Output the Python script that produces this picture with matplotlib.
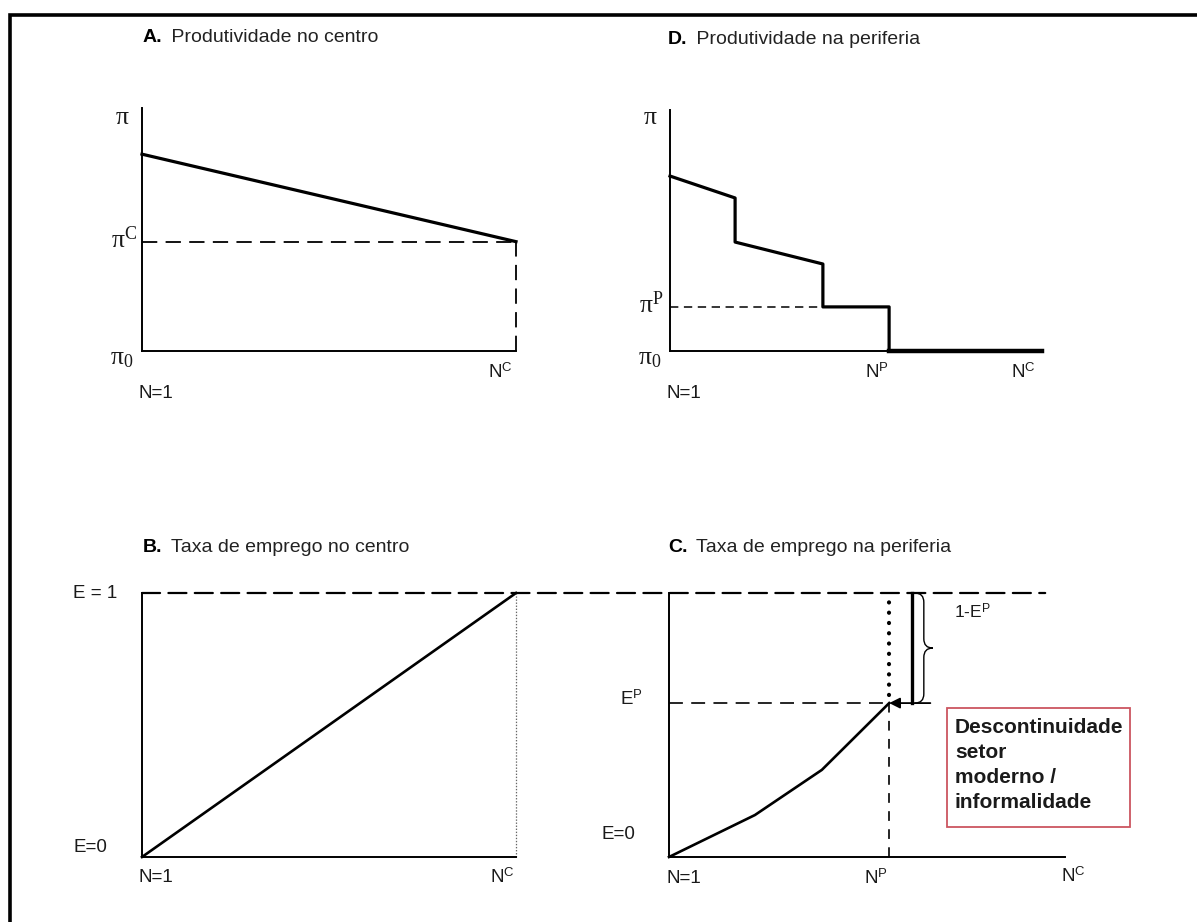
import numpy as np
import matplotlib
matplotlib.use('Agg')
import matplotlib.pyplot as plt
from matplotlib.patches import Rectangle, ConnectionPatch, PathPatch
from matplotlib.path import Path
from matplotlib.lines import Line2D

plt.rcParams['font.family'] = ['Liberation Sans', 'DejaVu Sans']
plt.rcParams['mathtext.fontset'] = 'custom'
plt.rcParams['mathtext.rm'] = 'Liberation Serif'
plt.rcParams['mathtext.it'] = 'Liberation Serif'
plt.rcParams['mathtext.sf'] = 'Liberation Sans'
plt.rcParams['lines.scale_dashes'] = False

# --- data (x: 0 = N=1, y: 0 = pi0 / E=0) ---
prod_centro_x = [0.0, 1.0]
prod_centro_y = [0.81, 0.45]
pi_C = 0.45

prod_perif_x = [0.0, 0.175, 0.175, 0.411, 0.411, 0.589, 0.589]
prod_perif_y = [0.726, 0.635, 0.452, 0.361, 0.183, 0.183, 0.0]
informal_x = [0.589, 1.0]
informal_y = [0.0, 0.0]
pi_P = 0.183
N_P_d = 0.589
N_C_d = 0.95

emp_centro_x = [0.0, 1.0]
emp_centro_y = [0.0, 1.0]

emp_perif_x = [0.0, 0.217, 0.386, 0.556]
emp_perif_y = [0.0, 0.159, 0.33, 0.583]
E_P = 0.583
N_P_c = 0.556
N_C_c = 1.02

titles = ['A.', 'D.', 'B.', 'C.']
subtitles = [' Produtividade no centro', ' Produtividade na periferia',
             ' Taxa de emprego no centro', ' Taxa de emprego na periferia']
box_lines = ['Descontinuidade', 'setor', 'moderno /', 'informalidade']

W, H = 1197, 922
fig = plt.figure(figsize=(W / 100, H / 100), dpi=100)


def px_axes(x0, x1, ybot, ytop):
    ax = fig.add_axes([x0 / W, 1 - ybot / H, (x1 - x0) / W, (ybot - ytop) / H])
    ax.set_xlim(0, 1)
    ax.set_ylim(0, 1)
    ax.patch.set_alpha(0)
    for s in ['top', 'right']:
        ax.spines[s].set_visible(False)
    for s in ['left', 'bottom']:
        ax.spines[s].set_linewidth(1.4)
    ax.set_xticks([])
    ax.set_yticks([])
    return ax


def lab(ax, txt, xy, off, size=13, ha='center', **kw):
    ax.annotate(txt, xy=xy, xytext=off, textcoords='offset pixels',
                ha=ha, va='center', fontsize=size, annotation_clip=False,
                color='#1a1a1a', **kw)


ax_a = px_axes(142, 516, 351, 108)
ax_d = px_axes(670, 1042, 351, 110)
ax_b = px_axes(142, 516, 857, 593)
ax_c = px_axes(669, 1065, 857, 593)

# titles
for t, st, (xp, yp) in zip(titles, subtitles,
                           [(143, 38), (668, 40), (143, 548), (668, 548)]):
    fig.text(xp / W, 1 - yp / H, t, fontsize=14, fontweight='bold', va='center')
    fig.text(xp / W + 0.019, 1 - yp / H, st, fontsize=14, va='center', color='#222222')

# A. produtividade no centro
ax_a.plot(prod_centro_x, prod_centro_y, color='black', lw=2.3, clip_on=False)
ax_a.plot([0, 1], [pi_C, pi_C], color='black', lw=1.3, ls=(0, (11, 6)), clip_on=False)
ax_a.plot([1, 1], [0, pi_C], color='black', lw=1.3, ls=(0, (11, 6)), clip_on=False)
lab(ax_a, r'$\pi$', (0, 1), (-20, -9), size=18.5)
lab(ax_a, r'$\pi^{C}$', (0, pi_C), (-18, 2), size=18.5)
lab(ax_a, r'$\pi_0$', (0, 0), (-20, -7), size=18.5)
lab(ax_a, r'N$^{\mathsf{C}}$', (1, 0), (-16, -21), size=13.5)
lab(ax_a, 'N=1', (0, 0), (14, -42), size=13.5)

# D. produtividade na periferia
ax_d.plot(prod_perif_x, prod_perif_y, color='black', lw=2.3, clip_on=False)
ax_d.plot(informal_x, informal_y, color='black', lw=3.2, clip_on=False)
ax_d.plot([0, prod_perif_x[3]], [pi_P, pi_P], color='black', lw=1.1, ls=(0, (6, 4)), clip_on=False)
lab(ax_d, r'$\pi$', (0, 1), (-20, -7), size=18.5)
lab(ax_d, r'$\pi^{P}$', (0, pi_P), (-18, 2), size=18.5)
lab(ax_d, r'$\pi_0$', (0, 0), (-20, -7), size=18.5)
lab(ax_d, r'N$^{\mathsf{P}}$', (N_P_d, 0), (-12, -21), size=13.5)
lab(ax_d, r'N$^{\mathsf{C}}$', (N_C_d, 0), (0, -21), size=13.5)
lab(ax_d, 'N=1', (0, 0), (14, -42), size=13.5)

# B. taxa de emprego no centro
ax_b.plot(emp_centro_x, emp_centro_y, color='black', lw=1.9, clip_on=False)
ax_b.plot([1, 1], [0, 1], color='#666666', lw=0.9, ls=(0, (1, 1.2)), clip_on=False)
lab(ax_b, 'E = 1', (0, 1), (-47, 0), size=13.5)
lab(ax_b, 'E=0', (0, 0), (-52, 10), size=13.5)
lab(ax_b, 'N=1', (0, 0), (14, -20), size=13.5)
lab(ax_b, r'N$^{\mathsf{C}}$', (1, 0), (-14, -20), size=13.5)

# dashed line E = 1 across B and C
con = ConnectionPatch(xyA=(0, 1), xyB=(0.95, 1), coordsA=ax_b.transData,
                      coordsB=ax_c.transData, color='black', lw=1.6,
                      linestyle=(0, (13, 6)))
fig.add_artist(con)

# C. taxa de emprego na periferia
ax_c.plot(emp_perif_x, emp_perif_y, color='black', lw=1.9, clip_on=False)
ax_c.plot([0, N_P_c], [E_P, E_P], color='black', lw=1.2, ls=(0, (10, 6)), clip_on=False)
ax_c.plot([N_P_c, N_P_c], [0, E_P], color='black', lw=1.2, ls=(0, (7, 6)), clip_on=False)
ax_c.plot([N_P_c, N_P_c], [E_P + 0.03, 1], color='black', lw=3.0,
          ls=(0, (0.1, 7.3)), dash_capstyle='round', clip_on=False)
# bar showing 1-E^P
ax_c.plot([0.614, 0.614], [E_P, 1], color='black', lw=2.4, clip_on=False)
ax_c.annotate('', xy=(N_P_c, E_P), xytext=(0.66, E_P),
              arrowprops=dict(arrowstyle='-|>', color='black', lw=1.3,
                              mutation_scale=16, shrinkA=0, shrinkB=0))
# brace
bx0, bw, btop, bbot = 0.621, 0.045, 1.0, E_P
bmid = (btop + bbot) / 2
r = 0.035
verts = [(bx0, btop), (bx0 + bw / 2, btop), (bx0 + bw / 2, btop - r),
         (bx0 + bw / 2, bmid + r),
         (bx0 + bw / 2, bmid), (bx0 + bw, bmid),
         (bx0 + bw / 2, bmid), (bx0 + bw / 2, bmid - r),
         (bx0 + bw / 2, bbot + r),
         (bx0 + bw / 2, bbot), (bx0, bbot)]
codes = [Path.MOVETO, Path.CURVE3, Path.CURVE3, Path.LINETO,
         Path.CURVE3, Path.CURVE3, Path.CURVE3, Path.CURVE3,
         Path.LINETO, Path.CURVE3, Path.CURVE3]
ax_c.add_patch(PathPatch(Path(verts, codes), fill=False, lw=1.0, color='black', clip_on=False))

lab(ax_c, r'1-E$^{\mathsf{P}}$', (0.72, 1), (0, -19), ha='left', size=12.5)
lab(ax_c, r'E$^{\mathsf{P}}$', (0, E_P), (-38, 4), size=13.5)
lab(ax_c, 'E=0', (0, 0), (-51, 23), size=13.5)
lab(ax_c, 'N=1', (0, 0), (15, -21), size=13.5)
lab(ax_c, r'N$^{\mathsf{P}}$', (N_P_c, 0), (-13, -21), size=13.5)
lab(ax_c, r'N$^{\mathsf{C}}$', (N_C_c, 0), (0, -19), size=13.5)

# red box
fig.add_artist(Rectangle((947 / W, 1 - 827 / H), (1130 - 947) / W, (827 - 708) / H,
                         transform=fig.transFigure, fill=False,
                         edgecolor='#cc5560', lw=1.3))
for i, t in enumerate(box_lines):
    fig.text(955 / W, 1 - (727 + 25 * i) / H, t, fontsize=15,
             fontweight='bold', va='center', color='#1a1a1a')

# outer frame: only top and left edges are visible
fig.add_artist(Line2D([10 / W, 10 / W, 1.0], [0.0, 1 - 15 / H, 1 - 15 / H],
                      transform=fig.transFigure, color='black', lw=2.6,
                      solid_joinstyle='miter'))

fig.savefig('out.png', dpi=100)
